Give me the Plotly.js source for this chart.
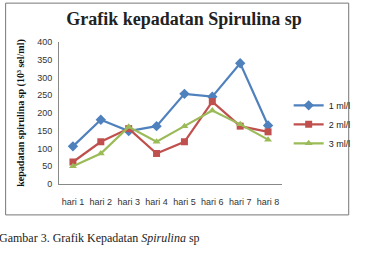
<!DOCTYPE html>
<html><head><meta charset="utf-8">
<script src="https://cdn.plot.ly/plotly-3.0.1.min.js"></script>
<style>html,body{margin:0;padding:0;background:#fff}#c{width:368px;height:254px}</style>
</head><body><div id="c"></div>
<script>
const days = ["hari 1","hari 2","hari 3","hari 4","hari 5","hari 6","hari 7","hari 8"];
const s1 = [106, 181, 149, 163, 254, 246, 340, 165];
const s2 = [62, 119, 156, 86, 119, 232, 163, 147];
const s3 = [50, 86, 161, 119, 163, 207, 168, 125];
const names = ["1 ml/l","2 ml/l","3 ml/l"];
const colors = ["#4F81BD","#C0504D","#9BBB59"];
const symbols = ["diamond","square","triangle-up"];
const series = [s1,s2,s3];

const L=59, R=293, T=42, B=184.5;
const px = p => (p-L)/(R-L);
const py = p => (B-p)/(B-T);
const SERIF = "'Liberation Serif', 'Times New Roman', serif";
const SANS = "'Liberation Sans', Arial, sans-serif";

const traces = series.map((s,i)=>({
  x: days, y: s, name: names[i], type:'scatter', mode:'lines+markers',
  line:{color:colors[i], width:2.2},
  marker:{symbol:symbols[i], color:colors[i], size: i===0?8:7}
}));

const layout = {
  width:368, height:254,
  margin:{l:L, r:368-R, t:T, b:254-B},
  paper_bgcolor:'#fff', plot_bgcolor:'rgba(0,0,0,0)',
  showlegend:true,
  title:{text:'Grafik kepadatan Spirulina sp', font:{family:SERIF, size:18, color:'#222', weight:'bold'}, x:0.5, xanchor:'center', y:1-19/254, yanchor:'middle'},
  xaxis:{type:'category', range:[-0.5,7.5], showgrid:false, zeroline:false, showline:true, linecolor:'#888', linewidth:1, ticks:'', ticklabelstandoff:9, tickfont:{family:SANS, size:9, color:'#333'}, fixedrange:true},
  yaxis:{range:[0,400], dtick:50, showgrid:false, zeroline:false, showline:true, linecolor:'#888', linewidth:1, ticks:'', ticklabelstandoff:4, tickfont:{family:SANS, size:9, color:'#333'},
    title:{text:'kepadatan spirulina sp (10³ sel/ml)', font:{family:SERIF, size:10, color:'#111', weight:'bold'}, standoff:10}},
  legend:{x:px(300), y:py(91), xanchor:'left', yanchor:'top', font:{family:SANS, size:9, color:'#222'}, itemwidth:30, tracegroupgap:0, bgcolor:'rgba(0,0,0,0)'},
  shapes:[{type:'rect', xref:'paper', yref:'paper', x0:px(3), x1:px(363), y0:py(215.5), y1:py(3), line:{color:'#777', width:1}, layer:'below'}],
  annotations:[{xref:'paper', yref:'paper', x:px(-6), y:py(239), xanchor:'left', yanchor:'middle', showarrow:false,
    text:'Gambar 3. Grafik Kepadatan <i>Spirulina</i> sp', font:{family:SERIF, size:12, color:'#222'}}]
};
Plotly.newPlot('c', traces, layout, {displayModeBar:false, staticPlot:true});
</script></body></html>
